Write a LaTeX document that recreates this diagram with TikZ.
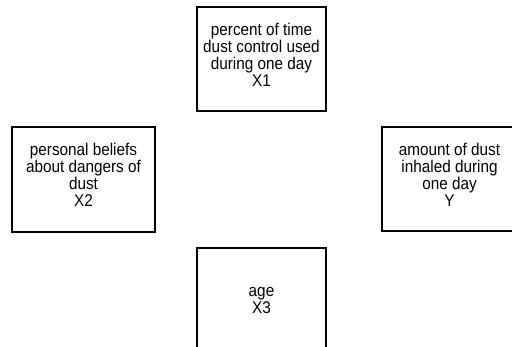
\documentclass[tikz,border=0pt]{standalone}
\usepackage{fontspec}
\setmainfont{Liberation Sans}[FakeStretch=0.9]
\begin{document}
\begin{tikzpicture}[x=1pt,y=-1pt,
  box/.style={draw, line width=1.1pt, inner sep=0pt},
  txt/.style={inner sep=0pt, align=center,
    font=\fontsize{17}{17}\selectfont}]
  % page frame; boxes running over the edge are cut off
  \useasboundingbox (0,0) rectangle (512,347);
  \clip (0,0) rectangle (512,347);
  % frames
  \node[box, minimum width=129pt, minimum height=104pt] (x1) at (261.5,59) {};
  \node[box, minimum width=143pt, minimum height=105pt] (x2) at (83.5,179.5) {};
  \node[box, minimum width=140pt, minimum height=104pt] (y)  at (452,179) {};
  \node[box, minimum width=129pt, minimum height=104pt] (x3) at (261.5,300) {};
  % labels
  \node[txt] (x1t) at (261.5,55.1)
    {percent of time\\dust control used\\during one day\\X1};
  \node[txt] (x2t) at (83.5,174.8)
    {personal beliefs\\about dangers of\\dust\\X2};
  \node[txt] (yt) at (449.5,175.1)
    {amount of dust\\inhaled during\\one day\\Y};
  \node[txt] (x3t) at (261.5,300.5) {age\\X3};
\end{tikzpicture}
\end{document}
